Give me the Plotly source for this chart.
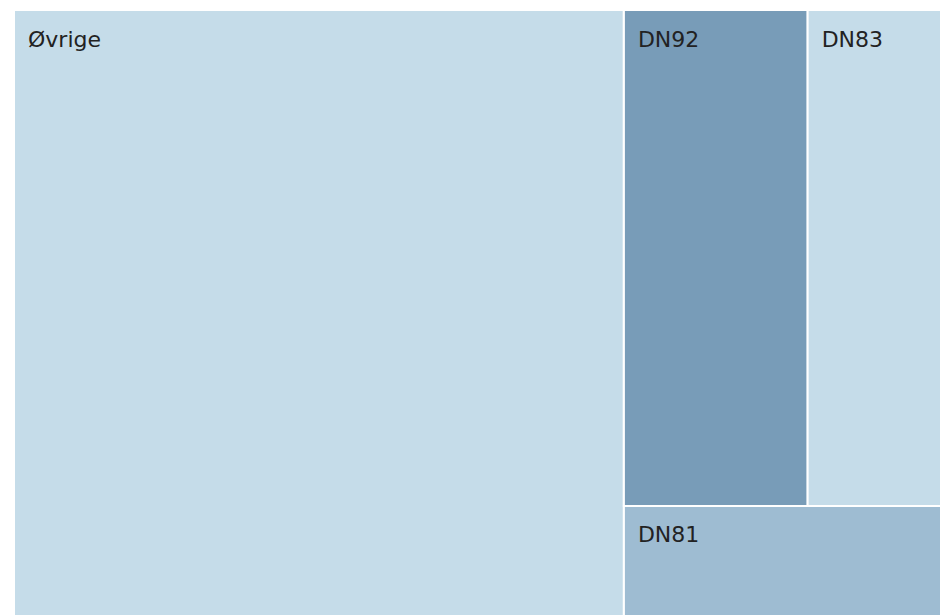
import plotly.graph_objects as go

# Data (share of total, %)
ids = ["Øvrige", "G", "T", "DN92", "DN83", "DN81"]
labels = ["Øvrige", "", "", "DN92", "DN83", "DN81"]
parents = ["", "", "G", "T", "T", "G"]
values = [65.3, 34.7, 28.4, 16.1, 12.3, 6.3]
colors = ["#c5dce9", "#9ebcd2", "#789cb8", "#789cb8", "#c5dce9", "#9ebcd2"]

texts = [
    "\u00a0<br><span style='font-size:22px'>\u2002" + l + "</span>" if l else ""
    for l in labels
]

fig = go.Figure(go.Treemap(
    ids=ids,
    labels=ids,
    parents=parents,
    values=values,
    text=texts,
    textinfo="text",
    branchvalues="total",
    sort=False,
    tiling=dict(packing="slice-dice", pad=0),
    marker=dict(colors=colors, line=dict(color="white", width=2),
                pad=dict(t=0, l=0, r=0, b=0)),
    textposition="top left",
    textfont=dict(family="DejaVu Sans", size=15, color="#222222"),
    pathbar=dict(visible=False),
    hoverinfo="skip",
))

fig.update_layout(
    autosize=False,
    width=940, height=608,
    margin=dict(l=6, t=2, r=0, b=0),
    paper_bgcolor="white",
    showlegend=False,
)

fig.write_html("out.html")
